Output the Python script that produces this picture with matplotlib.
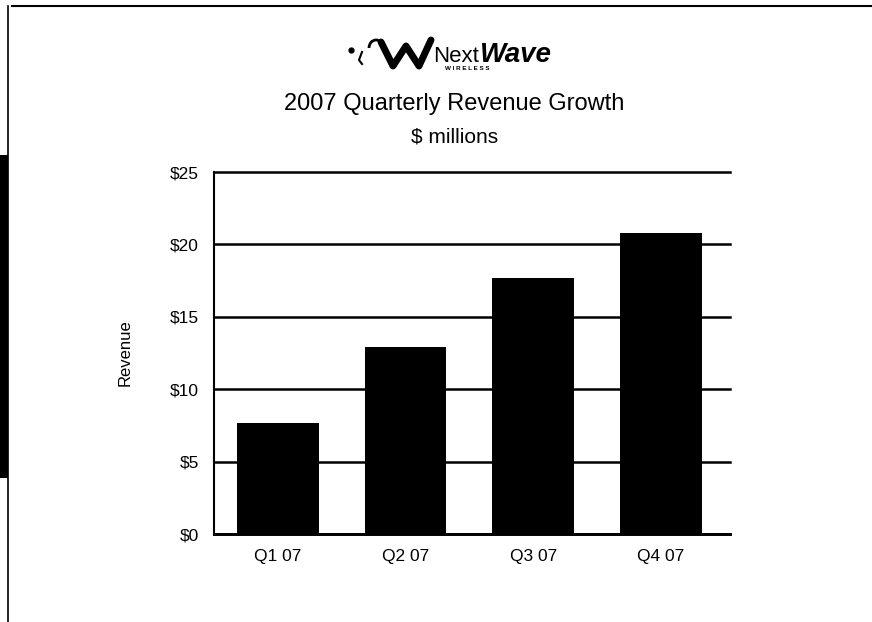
import matplotlib
matplotlib.use("Agg")
import matplotlib.pyplot as plt
from matplotlib.lines import Line2D
from matplotlib.patches import Rectangle, Arc

# ---- data ----
quarters = ["Q1 07", "Q2 07", "Q3 07", "Q4 07"]
revenue = [7.7, 12.9, 17.7, 20.8]
y_ticks = [0, 5, 10, 15, 20, 25]
y_tick_labels = ["$0", "$5", "$10", "$15", "$20", "$25"]
title = "2007 Quarterly Revenue Growth"
subtitle = "$ millions"
y_label = "Revenue"

plt.rcParams["font.family"] = ["Liberation Sans", "DejaVu Sans"]

W, H = 872, 622
fig = plt.figure(figsize=(W / 100, H / 100), dpi=100)
fig.patch.set_facecolor("white")


def px(x, y):
    return x / W, 1 - y / H


# ---- axes ----
ax = fig.add_axes([214 / W, 1 - 534 / H, (730 - 214) / W, (534 - 172) / H])
xs = list(range(len(quarters)))
ax.bar(xs, revenue, width=0.64, color="black", zorder=3)
ax.set_xlim(-0.5, 3.54)
ax.set_ylim(0, 25)
ax.set_yticks(y_ticks)
ax.set_yticklabels(y_tick_labels)
ax.set_xticks(xs)
ax.set_xticklabels(quarters)
ax.tick_params(axis="both", length=0, labelsize=12.5, colors="black")
ax.tick_params(axis="y", pad=11)
ax.tick_params(axis="x", pad=11)
ax.set_axisbelow(True)
ax.grid(axis="y", color="black", linewidth=1.8)
ax.grid(axis="x", visible=False)
for gl in ax.get_ygridlines():
    gl.set_clip_on(False)
for s in ["top", "right"]:
    ax.spines[s].set_visible(False)
ax.spines["left"].set_linewidth(1.5)
ax.spines["bottom"].set_linewidth(2.0)
ax.set_facecolor("white")

# ---- titles ----
fig.text(*px(454.5, 104), title, ha="center", va="center", fontsize=17)
fig.text(*px(455, 137), subtitle, ha="center", va="center", fontsize=15)
fig.text(*px(125, 353), y_label, ha="center", va="center", rotation=90, fontsize=12)

# ---- logo ----
renderer = fig.canvas.get_renderer()
t_next = fig.text(*px(433, 62), "Next", ha="left", va="baseline", fontsize=16,
                  fontstretch="condensed")
bb = t_next.get_window_extent(renderer=renderer)
fig.text(bb.x1 / W + 0.001, 1 - 62 / H, "Wave", ha="left", va="baseline",
         fontsize=20, fontweight="bold", fontstyle="italic")
fig.text(*px(467, 69), "W I R E L E S S", ha="center", va="center",
         fontsize=4.5, fontweight="bold")
# icon (decorative wave)
wx = [381, 393, 406, 419, 431]
wy = [42, 66, 46, 66, 40]
fig.add_artist(Line2D([px(x, 0)[0] for x in wx], [px(0, y)[1] for y in wy],
                      color="black", linewidth=5, solid_joinstyle="round",
                      solid_capstyle="round"))
fig.add_artist(Arc(px(376, 48), 14 / W, 16 / H, theta1=0, theta2=180,
                   color="black", linewidth=2))
fig.add_artist(Line2D([px(362, 0)[0], px(359, 0)[0], px(362, 0)[0]],
                      [px(0, 52)[1], px(0, 60)[1], px(0, 64)[1]],
                      color="black", linewidth=1.5))
fig.add_artist(Line2D([px(351, 0)[0]], [px(0, 50)[1]], marker="o",
                      markersize=3.5, color="black"))

# ---- scan border ----
fig.add_artist(Line2D([px(12, 0)[0], 1.0], [px(0, 6)[1]] * 2, color="black", linewidth=1.5))
fig.add_artist(Line2D([px(8, 0)[0]] * 2, [px(0, 6)[1], 0.0], color="black", linewidth=1.2))
fig.add_artist(Rectangle(px(0, 478), 8 / W, (478 - 155) / H, color="black", linewidth=0))

fig.savefig("out.png", dpi=100, facecolor="white")
